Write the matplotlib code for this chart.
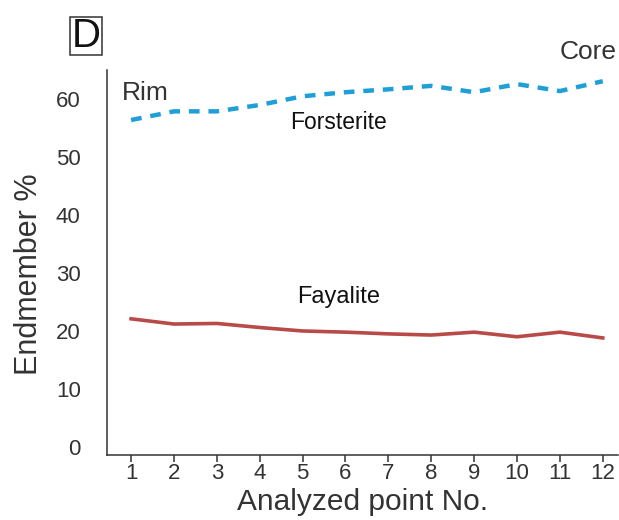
import matplotlib.pyplot as plt
from matplotlib.patches import Rectangle

plt.rcParams['font.family'] = ['Liberation Sans', 'DejaVu Sans']

# olivine endmember composition along a rim-to-core traverse
points = list(range(1, 13))
forsterite = [56.4, 57.9, 57.9, 59.0, 60.5, 61.2, 61.7, 62.3, 61.2, 62.6, 61.4, 63.1]
fayalite = [22.1, 21.2, 21.3, 20.6, 20.0, 19.8, 19.5, 19.3, 19.8, 19.0, 19.8, 18.8]
yticks = [0, 10, 20, 30, 40, 50, 60]

ink = '#333333'

fig = plt.figure(figsize=(6.19, 5.2), dpi=100)
ax = fig.add_axes([0.173, 0.125, 0.825, 0.74])

ax.plot(points, forsterite, color='#1E9FD8', lw=3.2, ls=(0, (2.4, 2.0)),
        solid_capstyle='butt', dash_capstyle='butt')
ax.plot(points, fayalite, color='#B84A47', lw=2.6)

ax.set_xlim(0.44, 12.35)
ax.set_ylim(-1.4, 65)
ax.set_xticks(points)
ax.set_yticks(yticks)

for side in ('top', 'right'):
    ax.spines[side].set_visible(False)
for side in ('left', 'bottom'):
    ax.spines[side].set_color(ink)
    ax.spines[side].set_linewidth(1.1)

ax.tick_params(axis='x', direction='out', length=5, width=1.1, color=ink,
               labelsize=16, labelcolor=ink, pad=1)
ax.tick_params(axis='y', length=0, labelsize=16, labelcolor=ink, pad=19)

ax.set_xlabel('Analyzed point No.', fontsize=21.5, color=ink, labelpad=3)
ax.set_ylabel('Endmember %', fontsize=22, color=ink)
ax.yaxis.set_label_coords(-0.123, 0.47)

# series and end labels
ax.text(1.34, 61.0, 'Rim', fontsize=19, color=ink, ha='center', va='center')
ax.text(12.33, 68.1, 'Core', fontsize=19, color=ink, ha='right', va='center',
        clip_on=False)
ax.text(5.83, 55.9, 'Forsterite', fontsize=16.5, color='#111111', ha='center', va='center')
ax.text(5.83, 25.8, 'Fayalite', fontsize=17, color='#111111', ha='center', va='center')

# panel letter
fig.text(0.139, 0.93, 'D', fontsize=29, color='#111111', ha='center', va='center')
fig.patches.append(Rectangle((0.113, 0.894), 0.052, 0.073, transform=fig.transFigure,
                             fill=False, edgecolor=ink, lw=1.1))

fig.savefig('out.png', dpi=100)
